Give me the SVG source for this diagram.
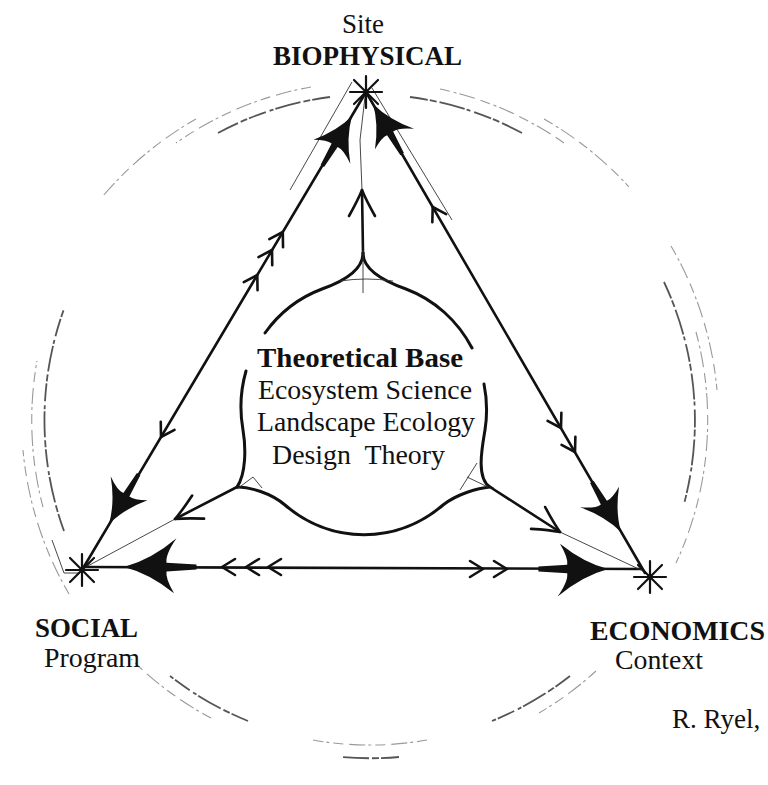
<svg xmlns="http://www.w3.org/2000/svg" xmlns:xlink="http://www.w3.org/1999/xlink" width="768" height="785" viewBox="0 0 768 785">
<defs>
<style>
.t{font-family:"Liberation Serif","Times New Roman",serif;fill:#111;white-space:pre}
.b{font-weight:bold}
.edge{stroke:#111;stroke-width:2.6;fill:none;stroke-linecap:round}
.thin{stroke:#333;stroke-width:0.9;fill:none}
.ring{stroke:#555;stroke-width:1.8;fill:none;stroke-dasharray:18 2 7 3 26 2 4 4}
.ring2{stroke:#999;stroke-width:1.1;fill:none;stroke-dasharray:10 4 3 3 16 6}
.chev{stroke:#111;stroke-width:2.6;fill:none;stroke-linecap:round;stroke-linejoin:round}
.circ{stroke:#111;stroke-width:3;fill:none;stroke-linecap:round}
.star{stroke:#111;stroke-width:2.2;stroke-linecap:round}
</style>
<path id="chev" class="chev" d="M-13,-8 L0,0 L-13,8"/>
<path id="chevL" class="chev" d="M-26,-13 Q-10,-4 0,0 Q-10,4 -26,13"/>
<path id="big" fill="#111" d="M0,0 Q-20,-5 -40,-21 Q-33,-9 -34,-3.5 L-58,-2 L-58,2 L-34,3.5 Q-33,10 -42,23 Q-22,6 0,0 Z"/>
<path id="star" class="star" d="M-16,0 L16,0 M0,-16 L0,16 M-12,-12 L12,12 M-12,12 L12,-12"/>
</defs>
<rect width="768" height="785" fill="#fff"/>

<g id="rings">
<path class="ring" d="M330,97 A325,325 0 0 0 218,133"/>
<path class="ring" d="M410,97 A325,325 0 0 1 522,133"/>
<path class="ring" d="M664,282 A325,325 0 0 1 684,504"/>
<path class="ring" d="M570,676 A325,325 0 0 1 492,721"/>
<path class="ring2" d="M427,740 A325,325 0 0 1 313,740"/>
<path class="ring" d="M248,721 A325,325 0 0 1 170,676"/>
<path class="ring" d="M64,531 A325,325 0 0 1 64,309"/>
<path class="ring2" d="M311,87 A338,338 0 0 0 176,143"/>
<path class="ring2" d="M440,89 A338,338 0 0 1 564,143"/>
<path class="ring2" d="M696,332 A338,338 0 0 1 676,563"/>
<path class="ring2" d="M596,671 A338,338 0 0 1 539,713"/>
<path class="ring" d="M399,757 A338,338 0 0 1 341,757"/>
<path class="ring2" d="M211,718 A338,338 0 0 1 131,659"/>
<path class="ring2" d="M43,507 A338,338 0 0 1 37,361"/>
<path class="ring2" d="M196,119 A348,348 0 0 0 103,196"/>
<path class="ring2" d="M544,119 A348,348 0 0 1 629,187"/>
<path class="ring2" d="M671,246 A348,348 0 0 1 717,390"/>
<path class="ring2" d="M69,594 A348,348 0 0 1 23,450"/>
</g>

<g id="connectors">
<path class="edge" d="M366,92 L82,570"/>
<path class="edge" d="M366,92 L645,573"/>
<path class="edge" d="M84,567 L640,569"/>
<path class="thin" d="M352,82 L290,190 M372,88 L452,220 M52,540 L64,573 L80,573"/>
<use xlink:href="#big" transform="translate(352,116) rotate(-59.3)"/>
<use xlink:href="#chev" transform="translate(282.8,232) rotate(-59.3)"/>
<use xlink:href="#chev" transform="translate(272,250) rotate(-59.3)"/>
<use xlink:href="#chev" transform="translate(257.3,275) rotate(-59.3)"/>
<use xlink:href="#chev" transform="translate(161,437) rotate(120.7)"/>
<use xlink:href="#big" transform="translate(109,524) rotate(120.7)"/>
<use xlink:href="#big" transform="translate(373,104) rotate(-120.2)"/>
<use xlink:href="#chev" transform="translate(432.7,207) rotate(-120.2)"/>
<use xlink:href="#chev" transform="translate(561,428) rotate(59.8)"/>
<use xlink:href="#chev" transform="translate(575,452) rotate(59.8)"/>
<use xlink:href="#big" transform="translate(621,532) rotate(59.8)"/>
<use xlink:href="#big" transform="translate(124,567) rotate(180) scale(1.25)"/>
<use xlink:href="#chev" transform="translate(222,567) rotate(180)"/>
<use xlink:href="#chev" transform="translate(246,567) rotate(180)"/>
<use xlink:href="#chev" transform="translate(268,567) rotate(180)"/>
<use xlink:href="#chev" transform="translate(483,569)"/>
<use xlink:href="#chev" transform="translate(507,569)"/>
<use xlink:href="#big" transform="translate(608,569) scale(1.2)"/>
<path class="edge" d="M363,253 L362,190"/>
<path class="thin" d="M362,190 L360,140 L365,97"/>
<use xlink:href="#chevL" transform="translate(362,190) rotate(-90)"/>
<path class="edge" d="M237,487 L175,519"/>
<path class="thin" d="M175,519 L84,568"/>
<use xlink:href="#chevL" transform="translate(175,519) rotate(152.7)"/>
<path class="edge" d="M490,487 L560,532"/>
<path class="thin" d="M560,532 L643,571"/>
<use xlink:href="#chevL" transform="translate(560,532) rotate(32.7)"/>
</g>

<g id="biophysical">
<use xlink:href="#star" transform="translate(366,92)"/>
<text class="t" x="342" y="33" font-size="27" font-family="Liberation Serif, serif">Site</text>
<text class="t b" x="273" y="65" font-size="27" textLength="189" lengthAdjust="spacingAndGlyphs">BIOPHYSICAL</text>
</g>

<g id="social">
<use xlink:href="#star" transform="translate(82,570)"/>
<text class="t b" x="35" y="637" font-size="27" textLength="103" lengthAdjust="spacingAndGlyphs">SOCIAL</text>
<text class="t" x="44" y="667" font-size="27" textLength="96" lengthAdjust="spacingAndGlyphs">Program</text>
</g>

<g id="economics">
<use xlink:href="#star" transform="translate(650,577)"/>
<text class="t b" x="590" y="640" font-size="27" textLength="175" lengthAdjust="spacingAndGlyphs">ECONOMICS</text>
<text class="t" x="615" y="669" font-size="27" textLength="88" lengthAdjust="spacingAndGlyphs">Context</text>
</g>

<g id="theoretical-base">
<path class="circ" d="M363,253 C363,272 389,283 406,289 A123,127 0 0 1 472,348"/>
<path class="circ" d="M484,384 A123,127 0 0 1 485,430 C482,448 476,478 490,487 C478,488 457,494 443,505 A123,127 0 0 1 285,505 C271,493 250,487 237,487 C246,474 246,448 243,430 A123,127 0 0 1 246,371"/>
<path class="circ" d="M265,333 A123,127 0 0 1 322,289 C339,283 363,272 363,253"/>
<path class="thin" d="M340,281 Q366,277 393,281 M363,250 L363,293 M237,489 L253,477 L262,488 M460,490 L477,463 M467,477 L488,487"/>
<text class="t b" x="257" y="367" font-size="28" textLength="206" lengthAdjust="spacingAndGlyphs">Theoretical Base</text>
<text class="t" x="258" y="399" font-size="28" textLength="214" lengthAdjust="spacingAndGlyphs">Ecosystem Science</text>
<text class="t" x="257" y="431" font-size="28" textLength="218" lengthAdjust="spacingAndGlyphs">Landscape Ecology</text>
<text class="t" x="272" y="464" font-size="28" textLength="173" lengthAdjust="spacingAndGlyphs">Design  Theory</text>
</g>

<g id="credit">
<text class="t" x="672" y="728" font-size="27">R. Ryel,</text>
</g>
</svg>
